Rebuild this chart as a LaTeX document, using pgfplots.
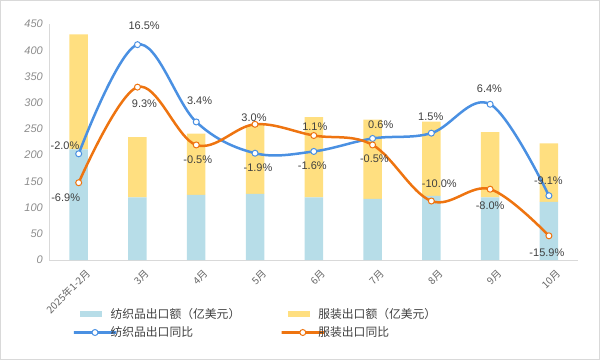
\documentclass[border=0pt]{standalone}
\usepackage{pgfplots}
\usepackage{pgfplotstable}
\pgfplotsset{compat=1.18}
\usepackage{fontspec}
\setmainfont{Liberation Sans}
\newfontfamily\cjk{Noto Sans CJK SC}
\definecolor{barblue}{HTML}{B7DDE8}
\definecolor{baryellow}{HTML}{FFDF80}
\definecolor{lineblue}{HTML}{4A90E2}
\definecolor{lineorange}{HTML}{EE7410}
\definecolor{axisgray}{HTML}{D9D9D9}
\definecolor{ticktext}{HTML}{8C8C8C}
\definecolor{labeltext}{HTML}{404040}
\definecolor{frame}{HTML}{D9D9D9}

\pgfplotsset{
  barlegend/.style={legend image code/.code={\fill[##1] (-3pt,-3pt) rectangle (19pt,3pt);}},
  linelegend/.style={legend image code/.code={\draw[mark repeat=2,mark phase=2,##1] plot coordinates {(0pt,0pt) (12pt,0pt) (24pt,0pt)};}},
}

\pgfplotstableread{
x textile apparel
0 211 219
1 119.5 115
2 124 117
3 126 131
4 119.5 153
5 116.5 151
6 122.5 141.5
7 119.5 124.5
8 111 111.5
}\bars

\pgfplotstableread{
x y lab dx dy
0 -2.0 -2.0 -13.7 8.3
1 16.5 16.5 6.7 19
2 3.4 3.4 3.3 21.4
3 -1.9 -1.9 3 -15
4 -1.6 -1.6 -1.5 -14.7
5 0.6 0.6 8.2 14
6 1.5 1.5 -0.6 16.3
7 6.4 6.4 -0.7 15.7
8 -9.1 -9.1 -0.5 15.3
}\textileyoy

\pgfplotstableread{
x y lab dx dy
0 -6.9 -6.9 -13 -14.6
1 9.3 9.3 7 -17
2 -0.5 -0.5 1.5 -15
3 3.0 3.0 -1 6.6
4 1.1 1.1 1 8.7
5 -0.5 -0.5 1.8 -13.3
6 -10.0 -10.0 8 17
7 -8.0 -8.0 0 -17
8 -15.9 -15.9 -2 -16.7
}\apparelyoy

\begin{document}
\begin{tikzpicture}
\useasboundingbox (0pt,0pt) rectangle (600pt,360pt);
\draw[frame, line width=1pt] (0.5pt,0.5pt) rectangle (599.5pt,359.5pt);

\begin{axis}[
  at={(49.3pt,100pt)}, anchor=south west,
  scale only axis, width=529pt, height=236pt,
  xmin=-0.5, xmax=8.5, ymin=0, ymax=450,
  ybar stacked, bar width=18.5pt,
  axis x line*=bottom, axis y line*=left,
  axis line style={axisgray, line width=0.8pt, -},
  major tick length=0pt,
  xtick={0,...,8},
  xticklabels={2025年1-2月,3月,4月,5月,6月,7月,8月,9月,10月},
  xticklabel style={rotate=45, anchor=east, font=\cjk\fontsize{10}{11}\selectfont, text=labeltext!80, xshift=2pt, yshift=-15pt},
  ytick={0,50,...,450},
  yticklabel style={font=\itshape\fontsize{11}{11}\selectfont, text=ticktext, xshift=-3pt},
  /pgf/number format/assume math mode=true,
  legend columns=2,
  legend cell align=left,
  legend style={at={(0,0)}, anchor=north west, xshift=20pt, yshift=-44pt,
    draw=none, fill=none, font=\cjk\fontsize{11.8}{13}\selectfont, text=labeltext,
    row sep=3pt, column sep=0pt,
    nodes={inner sep=2pt},
    /tikz/every odd column/.append style={column sep=-9pt},
    /tikz/every even column/.append style={column sep=38pt}},
]
\addplot[fill=barblue, draw=none, barlegend] table[x=x, y=textile] {\bars};
\addlegendentry{纺织品出口额（亿美元）}
\addplot[fill=baryellow, draw=none, barlegend] table[x=x, y=apparel] {\bars};
\addlegendentry{服装出口额（亿美元）}
\addlegendimage{linelegend, lineblue, line width=2.5pt, mark=*, mark size=3pt, mark options={fill=white, draw=lineblue, line width=1pt}}
\addlegendentry{纺织品出口同比}
\addlegendimage{linelegend, lineorange, line width=2.5pt, mark=*, mark size=3pt, mark options={fill=white, draw=lineorange, line width=1pt}}
\addlegendentry{服装出口同比}
\end{axis}

\begin{axis}[
  at={(49.3pt,100pt)}, anchor=south west,
  scale only axis, width=529pt, height=236pt,
  xmin=-0.5, xmax=8.5, ymin=-20, ymax=20,
  hide axis, clip=false,
  nodes near coords={\pgfplotspointmeta\%},
  point meta=explicit symbolic,
  visualization depends on={\thisrow{dx} \as \ldx},
  visualization depends on={\thisrow{dy} \as \ldy},
  every node near coord/.append style={anchor=center, xshift=\ldx pt, yshift=\ldy pt,
    font=\fontsize{11}{13}\selectfont, text=labeltext},
]
\addplot[lineblue, line width=2.5pt, smooth, tension=0.6, mark=*, mark size=3pt,
  mark options={fill=white, draw=lineblue, line width=1pt}]
  table[x=x, y=y, meta=lab] {\textileyoy};
\addplot[lineorange, line width=2.5pt, smooth, tension=0.6, mark=*, mark size=3pt,
  mark options={fill=white, draw=lineorange, line width=1pt}]
  table[x=x, y=y, meta=lab] {\apparelyoy};
\end{axis}
\end{tikzpicture}
\end{document}
